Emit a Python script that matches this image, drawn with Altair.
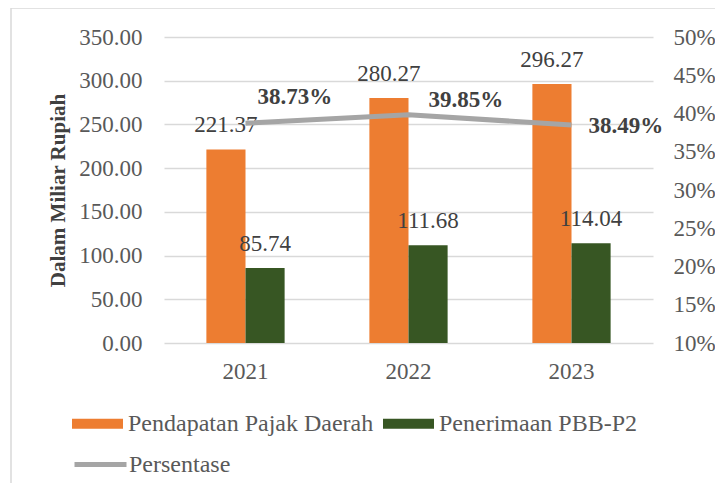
import altair as alt
import pandas as pd

years = ["2021", "2022", "2023"]
pajak_daerah = [221.37, 280.27, 296.27]
pbb_p2 = [85.74, 111.68, 114.04]
persentase = [0.3873, 0.3985, 0.3849]
series = ["Pendapatan Pajak Daerah", "Penerimaan PBB-P2"]
line_name = "Persentase"
left_ticks = [0, 50, 100, 150, 200, 250, 300, 350]
right_ticks = [0.10, 0.15, 0.20, 0.25, 0.30, 0.35, 0.40, 0.45, 0.50]
bar_colors = ["#ED7D31", "#375623"]
line_color = "#A5A5A5"

FONT = "Liberation Serif"
TXT = "#595959"
DARK = "#404040"

bars_df = pd.DataFrame({
    "Tahun": years * 2,
    "Seri": [series[0]] * 3 + [series[1]] * 3,
    "Nilai": pajak_daerah + pbb_p2,
})
line_df = pd.DataFrame({
    "Tahun": years,
    "Persen": persentase,
    "Seri": [line_name] * 3,
})

x_scale = alt.Scale(domain=years, paddingInner=0.52, paddingOuter=0.26)
x_axis = alt.Axis(title=None, labelAngle=0, labelFont=FONT, labelFontSize=23,
                  labelColor=TXT, ticks=False, domain=False, grid=False, labelPadding=17)
x_enc = alt.X("Tahun:N", scale=x_scale, axis=x_axis)

y_left_scale = alt.Scale(domain=[0, 350], nice=False, zero=True)
y_right_scale = alt.Scale(domain=[0.10, 0.50], nice=False, zero=False)
off_scale = alt.Scale(domain=series, paddingInner=0, paddingOuter=0)

y_left_axis = alt.Axis(values=left_ticks, format=".2f", title="Dalam Miliar Rupiah",
                       titleFont=FONT, titleFontSize=21, titleFontWeight="bold",
                       titleColor=DARK, titleX=-106, titleY=153, titleAngle=-90,
                       titleAlign="center", titleBaseline="middle",
                       labelFont=FONT, labelFontSize=23, labelColor=TXT,
                       labelPadding=22, ticks=False, domain=False, labelOverlap=False,
                       grid=True, gridColor="#D9D9D9", gridWidth=1.5)
y_right_axis = alt.Axis(orient="right", values=right_ticks, format=".0%", title=None,
                        labelFont=FONT, labelFontSize=23, labelColor=TXT,
                        labelPadding=20, ticks=False, domain=False, grid=False,
                        labelOverlap=False)

bars = alt.Chart(bars_df).mark_bar().encode(
    x=x_enc,
    xOffset=alt.XOffset("Seri:N", scale=off_scale),
    y=alt.Y("Nilai:Q", scale=y_left_scale, axis=y_left_axis),
    color=alt.Color("Seri:N", scale=alt.Scale(domain=series, range=bar_colors),
                    legend=alt.Legend(title=None, orient="none", legendX=-92, legendY=361,
                                      direction="horizontal",
                                      symbolType="M-1,-0.2H1V0.2H-1Z", symbolSize=2601,
                                      symbolStrokeWidth=0, labelFont=FONT, labelFontSize=24,
                                      labelColor=TXT, labelOffset=5, columnPadding=9,
                                      labelLimit=0)),
)

bar_text = alt.Chart(bars_df).mark_text(
    font=FONT, fontSize=23, color=DARK, baseline="alphabetic", dy=-17
).encode(
    x=x_enc,
    xOffset=alt.XOffset("Seri:N", scale=off_scale),
    y=alt.Y("Nilai:Q", scale=y_left_scale, axis=y_left_axis),
    text=alt.Text("Nilai:Q", format=".2f"),
)

left = alt.layer(bars, bar_text)

line = alt.Chart(line_df).mark_line(strokeWidth=5).encode(
    x=x_enc,
    y=alt.Y("Persen:Q", scale=y_right_scale, axis=y_right_axis),
    stroke=alt.Stroke("Seri:N", scale=alt.Scale(domain=[line_name], range=[line_color]),
                      legend=alt.Legend(title=None, orient="none", legendX=-92, legendY=399,
                                        symbolType="stroke", symbolSize=2704,
                                        symbolStrokeWidth=5, labelFont=FONT,
                                        labelFontSize=24, labelColor=TXT, labelOffset=0,
                                        labelLimit=0)),
)

label_offsets = {"2021": (12, -19), "2022": (20, -8), "2023": (17, 8)}
pct_layers = []
for yr in years:
    ddx, ddy = label_offsets[yr]
    pct_layers.append(
        alt.Chart(line_df).transform_filter(alt.datum.Tahun == yr).mark_text(
            font=FONT, fontSize=23, fontWeight="bold", color=DARK,
            align="left", baseline="alphabetic", dx=ddx, dy=ddy
        ).encode(
            x=x_enc,
            y=alt.Y("Persen:Q", scale=y_right_scale, axis=y_right_axis),
            text=alt.Text("Persen:Q", format=".2%"),
        )
    )

right = alt.layer(line, *pct_layers)

frame = alt.Chart(pd.DataFrame({"f": [0]})).mark_rect(
    fill=None, stroke="#D9D9D9", strokeWidth=1.5
).encode(
    x=alt.value(-153), x2=alt.value(600),
    y=alt.value(-29), y2=alt.value(470),
)

chart = alt.layer(frame, left, right).resolve_scale(
    y="independent", color="independent", stroke="independent"
).properties(
    width=489, height=306,
    background="white",
    autosize=alt.AutoSizeParams(type="none"),
    padding={"left": 156, "top": 29, "right": 62, "bottom": 140},
).configure_view(stroke=None, strokeWidth=0)

chart.save("out.html", embed_options={"renderer": "svg", "actions": False})
